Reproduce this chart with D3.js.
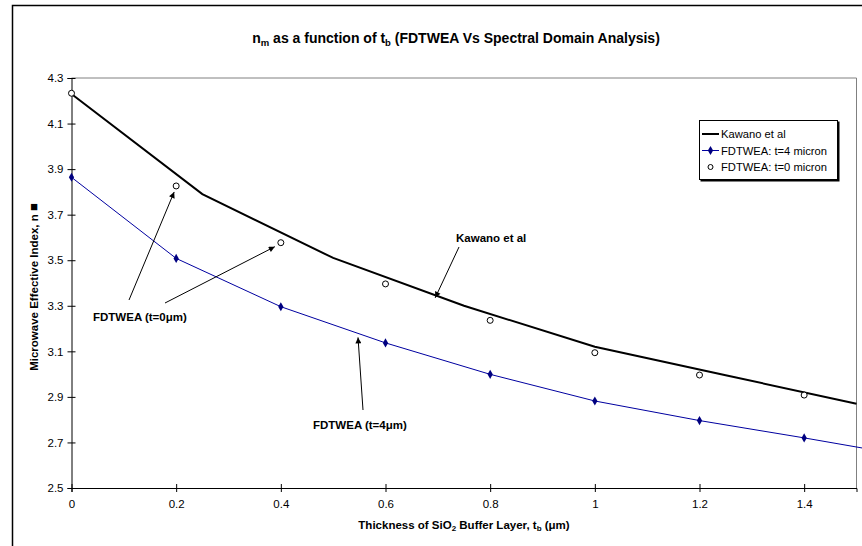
<!DOCTYPE html>
<html>
<head>
<meta charset="utf-8">
<script src="https://cdn.jsdelivr.net/npm/d3@7"></script>
<style>
  html, body { margin: 0; padding: 0; background: #fff; }
  svg { display: block; font-family: Arial, "Liberation Sans", sans-serif; }
</style>
</head>
<body>
<svg id="chart" width="862" height="546"></svg>
<script>
// Thickness of the SiO2 buffer layer (µm)
const tbKawano = [0, 0.25, 0.5, 0.75, 1.0, 1.25, 1.5];
const nKawano  = [4.23, 3.79, 3.51, 3.30, 3.12, 2.995, 2.87];

const tbFd4 = [0, 0.2, 0.4, 0.6, 0.8, 1.0, 1.2, 1.4, 1.6];
const nFd4  = [3.864, 3.508, 3.296, 3.137, 2.999, 2.882, 2.796, 2.720, 2.64];

const tbFd0 = [0, 0.2, 0.4, 0.6, 0.8, 1.0, 1.2, 1.4];
const nFd0  = [4.233, 3.826, 3.577, 3.396, 3.236, 3.094, 2.996, 2.908];

const xTicks = [0, 0.2, 0.4, 0.6, 0.8, 1.0, 1.2, 1.4];
const yTicks = [2.5, 2.7, 2.9, 3.1, 3.3, 3.5, 3.7, 3.9, 4.1, 4.3];

const legendNames = ["Kawano et al", "FDTWEA: t=4 micron", "FDTWEA: t=0 micron"];

const svg = d3.select("#chart");
const FONT = "Arial, 'Liberation Sans', sans-serif";

const x = d3.scaleLinear().domain([0, 1.5]).range([71.5, 856.5]);
const y = d3.scaleLinear().domain([2.5, 4.3]).range([488, 78]);

// chart frame
svg.append("rect").attr("x", 12.5).attr("y", 5.5).attr("width", 900).attr("height", 600)
  .attr("fill", "#fff").attr("stroke", "#000").attr("stroke-width", 1.5);

// plot area top/right border
svg.append("path")
  .attr("d", `M${x(0)},${y(4.3)}H${x(1.5)}V${y(2.5)}`)
  .attr("fill", "none").attr("stroke", "#808080").attr("stroke-width", 1);

// title
const title = svg.append("text").attr("x", 456).attr("y", 43)
  .attr("text-anchor", "middle").attr("font-size", 14).attr("font-weight", "bold");
title.append("tspan").text("n");
title.append("tspan").attr("font-size", 9.5).attr("dy", 2.5).text("m");
title.append("tspan").attr("dy", -2.5).text(" as a function of t");
title.append("tspan").attr("font-size", 9.5).attr("dy", 2.5).text("b");
title.append("tspan").attr("dy", -2.5).text(" (FDTWEA Vs Spectral Domain Analysis)");

// axes
const yAxis = svg.append("g").attr("transform", `translate(${x(0)},0)`)
  .call(d3.axisLeft(y).tickValues(yTicks).tickFormat(d3.format(".1f")).tickSizeOuter(0).tickSize(4));
yAxis.selectAll(".tick line").attr("x1", 4).attr("x2", -4);
yAxis.selectAll(".tick text").attr("x", -8).attr("font-size", 11.5).attr("fill", "#000")
  .attr("font-family", FONT);
yAxis.select(".domain").attr("stroke", "#000");

const xAxis = svg.append("g").attr("transform", `translate(0,${y(2.5)})`)
  .call(d3.axisBottom(x).tickValues(xTicks).tickFormat(d => String(+d.toFixed(1))).tickSizeOuter(0).tickSize(4));
xAxis.selectAll(".tick line").attr("y1", -4).attr("y2", 4);
xAxis.selectAll(".tick text").attr("y", 12).attr("font-size", 11.5).attr("fill", "#000")
  .attr("font-family", FONT);
xAxis.select(".domain").attr("stroke", "#000");

// axis titles
const xt = svg.append("text").attr("x", 464).attr("y", 529)
  .attr("text-anchor", "middle").attr("font-size", 11.5).attr("font-weight", "bold");
xt.append("tspan").text("Thickness of SiO");
xt.append("tspan").attr("font-size", 8).attr("dy", 2).text("2");
xt.append("tspan").attr("dy", -2).text(" Buffer Layer, t");
xt.append("tspan").attr("font-size", 8).attr("dy", 2).text("b");
xt.append("tspan").attr("dy", -2).text(" (μm)");

const yt = svg.append("text").attr("transform", "translate(38,287) rotate(-90)")
  .attr("text-anchor", "middle").attr("font-size", 11.5).attr("font-weight", "bold");
yt.append("tspan").text("Microwave Effective Index, n ");
yt.append("tspan").attr("font-size", 13).text("■");

// series
const line = d3.line().x(d => x(d[0])).y(d => y(d[1]));

svg.append("path").datum(d3.zip(tbKawano, nKawano))
  .attr("d", line).attr("fill", "none").attr("stroke", "#000").attr("stroke-width", 2);

svg.append("path").datum(d3.zip(tbFd4, nFd4))
  .attr("d", line).attr("fill", "none").attr("stroke", "#0000a0").attr("stroke-width", 1);

const diamond = d3.symbol().type(d3.symbolDiamond).size(24);
svg.append("g").selectAll("path").data(d3.zip(tbFd4, nFd4).filter(d => d[0] <= 1.5)).join("path")
  .attr("d", diamond).attr("transform", d => `translate(${x(d[0])},${y(d[1])})`)
  .attr("fill", "#000080");

svg.append("g").selectAll("circle").data(d3.zip(tbFd0, nFd0)).join("circle")
  .attr("cx", d => x(d[0])).attr("cy", d => y(d[1])).attr("r", 3)
  .attr("fill", "#fff").attr("stroke", "#000").attr("stroke-width", 1);

// annotation arrows
svg.append("defs").append("marker").attr("id", "ah")
  .attr("viewBox", "0 0 10 10").attr("refX", 10).attr("refY", 5)
  .attr("markerWidth", 10).attr("markerHeight", 6).attr("markerUnits", "userSpaceOnUse")
  .attr("orient", "auto")
  .append("path").attr("d", "M0,0L10,5L0,10Z").attr("fill", "#000");

function arrow(x1, y1, x2, y2) {
  svg.append("line").attr("x1", x1).attr("y1", y1).attr("x2", x2).attr("y2", y2)
    .attr("stroke", "#000").attr("stroke-width", 1).attr("marker-end", "url(#ah)");
}

function note(tx, ty, parts) {
  const t = svg.append("text").attr("x", tx).attr("y", ty).attr("font-size", 11.5).attr("font-weight", "bold");
  t.text(parts);
}

// Kawano label
note(456, 242, "Kawano et al");
arrow(459, 247, x(0.695), y(3.335));

// t = 0 µm label
note(93, 321, "FDTWEA (t=0μm)");
arrow(129, 300, x(0.2) - 2, y(nFd0[1]) + 6);
arrow(165, 303, x(0.4) - 6, y(nFd0[2]) + 4);

// t = 4 µm label
note(313, 429, "FDTWEA (t=4μm)");
arrow(363, 410, 358, y(3.17) + 2);

// legend
const lg = svg.append("g").attr("transform", "translate(699,120)");
lg.append("rect").attr("x", 1.5).attr("y", 1.5).attr("width", 139).attr("height", 60).attr("fill", "#000");
lg.append("rect").attr("x", 0.5).attr("y", 0.5).attr("width", 138).attr("height", 59)
  .attr("fill", "#fff").attr("stroke", "#000").attr("stroke-width", 1);
const rows = [14, 30.5, 47];
legendNames.forEach((name, i) => {
  const g = lg.append("g").attr("transform", `translate(0,${rows[i]})`);
  if (i === 0) g.append("line").attr("x1", 3).attr("x2", 20).attr("stroke", "#000").attr("stroke-width", 2);
  if (i === 1) {
    g.append("line").attr("x1", 3).attr("x2", 20).attr("stroke", "#0000a0").attr("stroke-width", 1);
    g.append("path").attr("d", diamond).attr("transform", "translate(11.5,0)").attr("fill", "#000080");
  }
  if (i === 2) g.append("circle").attr("cx", 11.5).attr("r", 2.5).attr("fill", "#fff").attr("stroke", "#000");
  g.append("text").attr("x", 22).attr("y", 4).attr("font-size", 11.2).text(name);
});
</script>
</body>
</html>
